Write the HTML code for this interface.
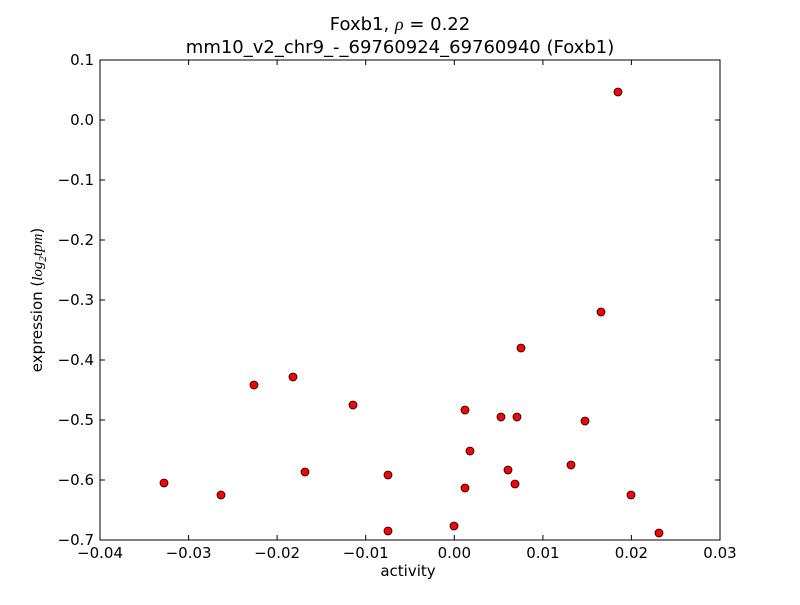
<!DOCTYPE html>
<html><head><meta charset="utf-8"><style>
body{margin:0;background:#fff;}
svg text{font-family:"DejaVu Sans","Liberation Sans",sans-serif;font-size:15px;fill:#000;}
</style></head><body>
<svg width="800" height="600" xmlns="http://www.w3.org/2000/svg">
<rect width="800" height="600" fill="#fff"/>
<text x="400" y="30" text-anchor="middle" style="font-size:18px">Foxb1, <tspan style="font-family:'Liberation Serif';font-style:italic">ρ</tspan> = 0.22</text>
<text x="400" y="53" text-anchor="middle" style="font-size:18px">mm10_v2_chr9_-_69760924_69760940 (Foxb1)</text>
<rect x="100" y="60" width="620" height="480" fill="none" stroke="#000" stroke-width="1"/>
<g stroke="#000" stroke-width="1">
<line x1="100" y1="540" x2="100" y2="535"/><line x1="100" y1="60" x2="100" y2="65"/>
<line x1="188.6" y1="540" x2="188.6" y2="535"/><line x1="188.6" y1="60" x2="188.6" y2="65"/>
<line x1="277.1" y1="540" x2="277.1" y2="535"/><line x1="277.1" y1="60" x2="277.1" y2="65"/>
<line x1="365.7" y1="540" x2="365.7" y2="535"/><line x1="365.7" y1="60" x2="365.7" y2="65"/>
<line x1="454.3" y1="540" x2="454.3" y2="535"/><line x1="454.3" y1="60" x2="454.3" y2="65"/>
<line x1="542.9" y1="540" x2="542.9" y2="535"/><line x1="542.9" y1="60" x2="542.9" y2="65"/>
<line x1="631.4" y1="540" x2="631.4" y2="535"/><line x1="631.4" y1="60" x2="631.4" y2="65"/>
<line x1="100" y1="120" x2="105" y2="120"/><line x1="720" y1="120" x2="715" y2="120"/>
<line x1="100" y1="180" x2="105" y2="180"/><line x1="720" y1="180" x2="715" y2="180"/>
<line x1="100" y1="240" x2="105" y2="240"/><line x1="720" y1="240" x2="715" y2="240"/>
<line x1="100" y1="300" x2="105" y2="300"/><line x1="720" y1="300" x2="715" y2="300"/>
<line x1="100" y1="360" x2="105" y2="360"/><line x1="720" y1="360" x2="715" y2="360"/>
<line x1="100" y1="420" x2="105" y2="420"/><line x1="720" y1="420" x2="715" y2="420"/>
<line x1="100" y1="480" x2="105" y2="480"/><line x1="720" y1="480" x2="715" y2="480"/>
</g>
<g text-anchor="middle">
<text x="100" y="558">−0.04</text><text x="188.6" y="558">−0.03</text><text x="277.1" y="558">−0.02</text>
<text x="365.7" y="558">−0.01</text><text x="454.3" y="558">0.00</text><text x="542.9" y="558">0.01</text>
<text x="631.4" y="558">0.02</text><text x="720" y="558">0.03</text>
</g>
<g text-anchor="end">
<text x="94" y="65">0.1</text><text x="94" y="125">0.0</text><text x="94" y="185">−0.1</text>
<text x="94" y="245">−0.2</text><text x="94" y="305">−0.3</text><text x="94" y="365">−0.4</text>
<text x="94" y="425">−0.5</text><text x="94" y="485">−0.6</text><text x="94" y="545">−0.7</text>
</g>
<text x="408" y="576" text-anchor="middle">activity</text>
<text transform="translate(42,300) rotate(-90)" text-anchor="middle">expression (<tspan style="font-family:'Liberation Serif';font-style:italic">log</tspan><tspan style="font-family:'Liberation Serif';font-style:italic;font-size:11px" dy="4">2</tspan><tspan style="font-family:'Liberation Serif';font-style:italic" dy="-4">tpm</tspan>)</text>
<g fill="#f00" stroke="#000" stroke-width="0.8">
<circle cx="618" cy="92" r="4"/><circle cx="601" cy="312" r="4"/><circle cx="521" cy="348" r="4"/>
<circle cx="254" cy="385" r="4"/><circle cx="293" cy="377" r="4"/><circle cx="353" cy="405" r="4"/>
<circle cx="465" cy="410" r="4"/><circle cx="501" cy="417" r="4"/><circle cx="517" cy="417" r="4"/>
<circle cx="585" cy="421" r="4"/><circle cx="470" cy="451" r="4"/><circle cx="164" cy="483" r="4"/>
<circle cx="221" cy="495" r="4"/><circle cx="305" cy="472" r="4"/><circle cx="388" cy="475" r="4"/>
<circle cx="508" cy="470" r="4"/><circle cx="571" cy="465" r="4"/><circle cx="515" cy="484" r="4"/>
<circle cx="465" cy="488" r="4"/><circle cx="631" cy="495" r="4"/><circle cx="388" cy="531" r="4"/>
<circle cx="454" cy="526" r="4"/><circle cx="659" cy="533" r="4"/>
</g>
</svg>
</body></html>
